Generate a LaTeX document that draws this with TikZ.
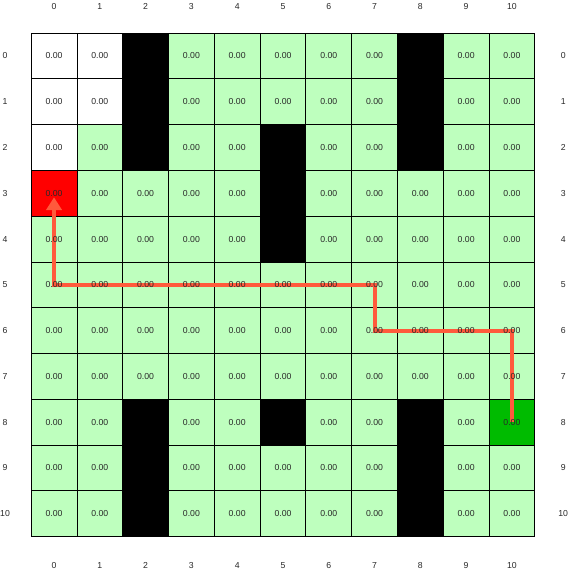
\documentclass[tikz,border=0pt]{standalone}
\usepackage{fontspec}
\setmainfont{Liberation Sans}
\usetikzlibrary{arrows.meta}

\definecolor{freecell}{RGB}{190,255,190}
\definecolor{goalcell}{RGB}{0,187,0}
\definecolor{startcell}{RGB}{255,0,0}
\definecolor{pathline}{RGB}{255,90,60}
\definecolor{celltext}{RGB}{40,40,40}

\tikzset{
  cell/.style={draw=black, line width=0.5pt, fill=freecell, minimum size=1cm,
    inner sep=0pt},
  wall/.style={cell, fill=black},
  value/.style={inner sep=0pt, text=celltext, font=\fontsize{5.4}{6}\selectfont},
  axislabel/.style={font=\fontsize{5.4}{6}\selectfont, text=celltext},
  route/.style={pathline, line width=2.5pt, line join=miter, shorten >=2.5pt,
    -{Triangle[length=8pt, width=9.5pt]}}
}

\begin{document}
\begin{tikzpicture}[x=1cm, y=1cm]
\useasboundingbox (-0.68,0.72) rectangle (11.77,-11.75);

% Grid cells
\foreach \r in {0,...,10} {
  \foreach \c in {0,...,10} {
    \node[cell] (c\r-\c) at (\c+0.5,-\r-0.5) {};
  }
}

% Unexplored cells
\foreach \r/\c in {0/0,0/1,1/0,1/1,2/0} {
  \node[cell, fill=white] (u\r-\c) at (c\r-\c) {};
}

% Start and goal
\node[cell, fill=startcell] (goal) at (c3-0) {};
\node[cell, fill=goalcell] (start) at (c8-10) {};

% Found route
\draw[route] (start.center) -- (c6-10.center) -- (c6-7.center)
  -- (c5-7.center) -- (c5-0.center) -- (goal.center);

% Cell values
\foreach \r in {0,...,10} {
  \foreach \c in {0,...,10} {
    \node[value] (v\r-\c) at (c\r-\c) {0.00};
  }
}

% Obstacles
\foreach \r/\c in {0/2,1/2,2/2,8/2,9/2,10/2,2/5,3/5,4/5,8/5,0/8,1/8,2/8,8/8,9/8,10/8} {
  \node[wall] (w\r-\c) at (c\r-\c) {};
}

% Axis labels
\foreach \i in {0,...,10} {
  \node[axislabel] (top\i) at (\i+0.5,0.57) {\i};
  \node[axislabel] (bot\i) at (\i+0.5,-11.62) {\i};
  \node[axislabel] (lft\i) at (-0.57,-\i-0.5) {\i};
  \node[axislabel] (rgt\i) at (11.62,-\i-0.5) {\i};
}
\end{tikzpicture}
\end{document}
